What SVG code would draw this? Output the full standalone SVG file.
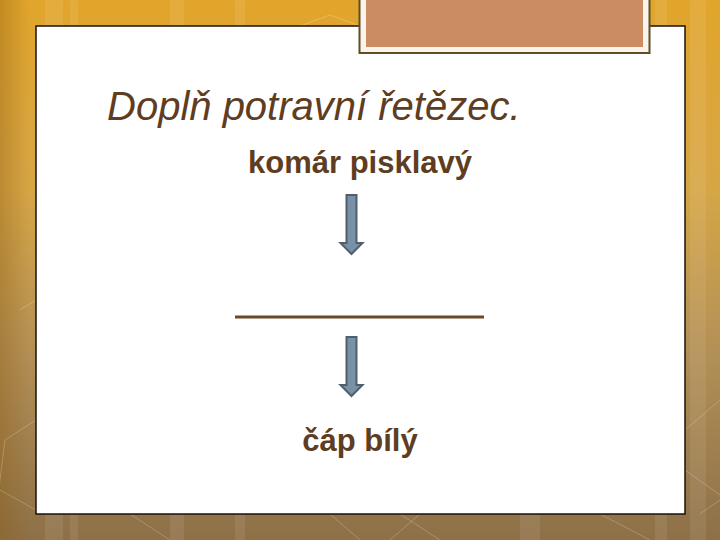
<svg xmlns="http://www.w3.org/2000/svg" width="720" height="540" viewBox="0 0 720 540">
<defs>
<linearGradient id="bg" x1="0" y1="0" x2="0" y2="1">
<stop offset="0" stop-color="#e2a52c"/>
<stop offset="0.35" stop-color="#d6a646"/>
<stop offset="0.65" stop-color="#b39056"/>
<stop offset="1" stop-color="#8e7048"/>
</linearGradient>
<linearGradient id="edge" x1="0" y1="0" x2="1" y2="0">
<stop offset="0" stop-color="#8a5a10" stop-opacity="0.35"/>
<stop offset="1" stop-color="#8a5a10" stop-opacity="0"/>
</linearGradient>
<style>
.txt{font-family:"Liberation Sans",Arial,sans-serif;fill:#5e3d22}
.arrow{fill:#7991a6;stroke:#4f5f6e;stroke-width:2}
.stripe{fill:#ffffff;opacity:0.08}
.hex{fill:none;stroke:#ffffff;stroke-opacity:0.22;stroke-width:1}
</style>
</defs>
<g id="background">
<rect width="720" height="540" fill="url(#bg)"/>
<rect width="30" height="540" fill="url(#edge)"/>
<rect class="stripe" x="45" y="0" width="18" height="540"/>
<rect class="stripe" x="70" y="0" width="8" height="540"/>
<rect class="stripe" x="170" y="0" width="14" height="540"/>
<rect class="stripe" x="235" y="0" width="10" height="540"/>
<rect class="stripe" x="520" y="0" width="20" height="540"/>
<rect class="stripe" x="655" y="0" width="12" height="540"/>
<rect class="stripe" x="690" y="0" width="16" height="540"/>
<path class="hex" d="M20 310 L36 300 M36 420 L5 440 L-5 520 M0 490 L36 510 M130 514 L170 540 M330 514 L360 540 M400 514 L440 540 M420 514 L390 540 M600 514 L650 540 M685 430 L720 400 M685 470 L720 495 M700 514 L720 500"/>
<path class="hex" d="M300 26 L330 15 L360 26"/>
</g>
<g id="panel">
<rect x="36" y="26" width="649" height="488" fill="#ffffff" stroke="#1a1208" stroke-width="1.5"/>
</g>
<g id="tab">
<rect x="359.5" y="-2" width="290" height="55" fill="#faf4ec" stroke="#5e4e22" stroke-width="2"/>
<rect x="366" y="-2" width="277" height="49" fill="#cc8c62"/>
</g>
<g id="title">
<text class="txt" x="107" y="120" font-size="40" font-style="italic">Doplň potravní řetězec.</text>
</g>
<g id="node-komar">
<text class="txt" x="360" y="173" font-size="31" font-weight="bold" text-anchor="middle">komár pisklavý</text>
</g>
<g id="node-blank">
<line x1="235" y1="317" x2="484" y2="317" stroke="#6a4828" stroke-width="3"/>
</g>
<g id="node-cap">
<text class="txt" x="360" y="451" font-size="31" font-weight="bold" text-anchor="middle">čáp bílý</text>
</g>
<g id="connectors">
<path class="arrow" d="M346.5 195 H356.5 V243 H362.5 L351.5 254 L340.5 243 H346.5 Z"/>
<path class="arrow" d="M346.5 337 H356.5 V385 H362.5 L351.5 396 L340.5 385 H346.5 Z"/>
</g>
</svg>
